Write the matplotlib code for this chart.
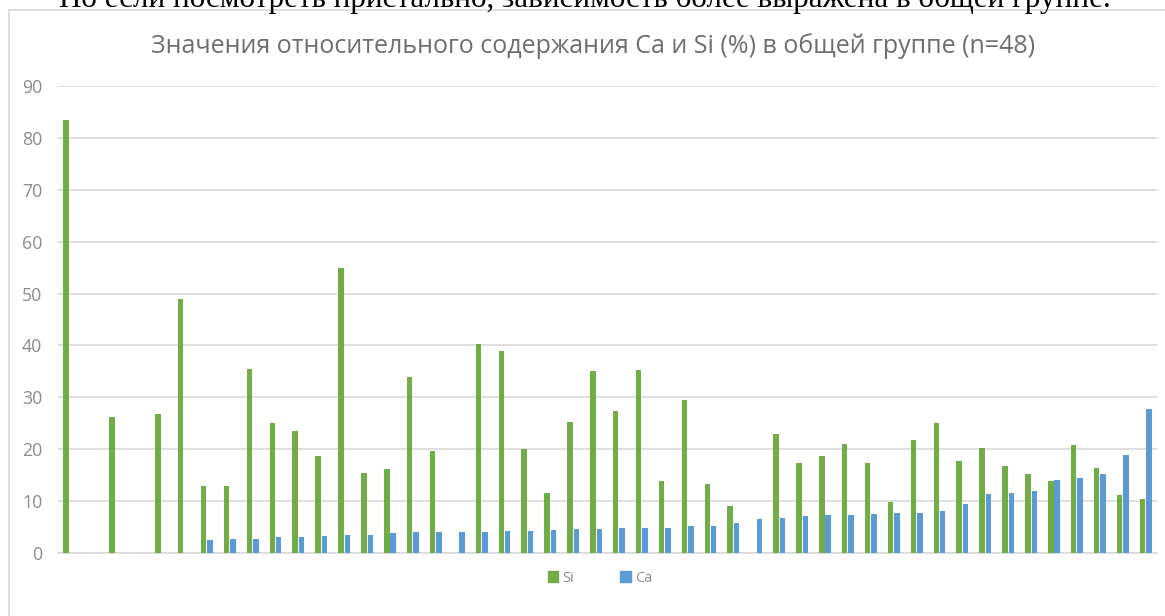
import numpy as np
import matplotlib
matplotlib.use("Agg")
import matplotlib.pyplot as plt
from matplotlib.patches import Rectangle, Patch

# Relative content of Si and Ca (%) per sample, sorted by Ca
si = [83.4, 0, 26.2, 0, 26.8, 48.9, 13.0, 13.0, 35.4, 25.1, 23.5, 18.6,
      54.9, 15.4, 16.1, 34.0, 19.6, 0, 40.3, 39.0, 20.0, 11.5, 25.3, 35.1,
      27.4, 35.3, 13.8, 29.4, 13.3, 9.0, 0, 22.9, 17.3, 18.6, 21.0, 17.3,
      9.9, 21.8, 25.1, 17.8, 20.3, 16.8, 15.3, 13.8, 20.8, 16.4, 11.2, 10.4]
ca = [0, 0, 0, 0, 0, 0, 2.6, 2.7, 2.7, 3.1, 3.1, 3.3,
      3.5, 3.5, 3.8, 4.1, 4.1, 4.1, 4.1, 4.3, 4.3, 4.4, 4.7, 4.7,
      4.8, 4.8, 4.8, 5.2, 5.2, 5.8, 6.5, 6.8, 7.2, 7.3, 7.3, 7.6,
      7.7, 7.7, 8.1, 9.5, 11.4, 11.5, 11.9, 14.1, 14.5, 15.3, 18.8, 27.7]
series_names = ["Si", "Ca"]
yticks = list(range(0, 91, 10))

title = "Значения относительного содержания Ca и Si (%) в общей группе (n=48)"
doc_line = "Но если посмотреть пристально, зависимость более выражена в общей группе."

GREEN = "#70AD47"
BLUE = "#5B9BD5"
GRID = "#D9D9D9"
TXT = "#8C8C8C"
FONT = ["Open Sans", "DejaVu Sans"]

W, H = 1165, 616
fig = plt.figure(figsize=(W / 100, H / 100), dpi=100)
fig.patch.set_facecolor("white")

# line of document text cut off at the top
fig.text(585 / W, 1 - 7 / H, doc_line, ha="center", va="baseline",
         fontsize=22.4, family=["Liberation Serif", "DejaVu Serif"], color="black")

# chart frame (runs off the right and bottom edge)
fig.patches.append(Rectangle((9 / W, -0.1), 1.2, 1 - 10 / H + 0.1,
                             transform=fig.transFigure, fill=False,
                             edgecolor=GRID, linewidth=1.2))

ax = fig.add_axes([58 / W, 63 / H, (1157 - 58) / W, (553 - 86) / H])

x = np.arange(len(si))
w = 0.24
ax.bar(x - 0.14, si, width=w, color=GREEN, label=series_names[0], zorder=3)
ax.bar(x + 0.14, ca, width=w, color=BLUE, label=series_names[1], zorder=3)

ax.set_xlim(-0.5, len(si) - 0.5)
ax.set_ylim(0, 90)
ax.set_yticks(yticks)
ax.set_xticks([])
ax.yaxis.grid(True, color=GRID, linewidth=1.2)
ax.set_axisbelow(True)
for s in ["top", "right", "left"]:
    ax.spines[s].set_visible(False)
ax.spines["bottom"].set_color(GRID)
ax.spines["bottom"].set_linewidth(1.2)
ax.tick_params(axis="y", length=0, pad=11.3, labelsize=12.8, labelcolor=TXT)
for lab in ax.get_yticklabels():
    lab.set_family(FONT)

fig.text(593 / W, 1 - 53.3 / H, title, ha="center", va="baseline",
         fontsize=18, family=FONT, color="#6E6E6E")

handles = [Patch(color=GREEN), Patch(color=BLUE)]
fig.legend(handles, series_names, loc="center", bbox_to_anchor=(600 / W, 1 - 578 / H),
           ncol=2, frameon=False, handlelength=0.7, handleheight=0.7,
           handletextpad=0.3, columnspacing=3.2,
           prop={"family": FONT, "size": 10.5}, labelcolor=TXT)

fig.savefig("out.png", dpi=100)
